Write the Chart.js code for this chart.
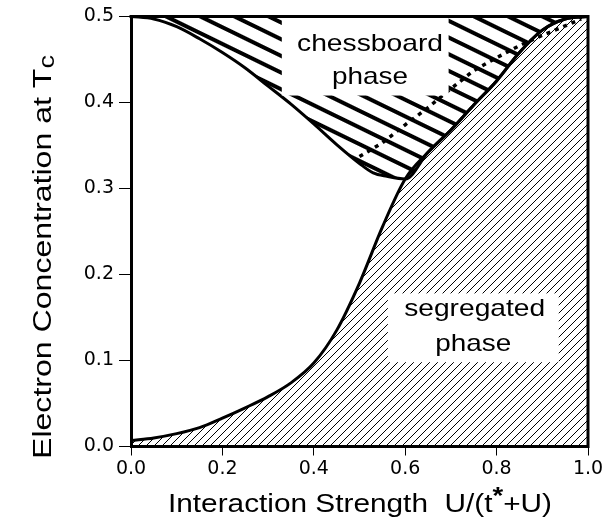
<!DOCTYPE html>
<html>
<head>
<meta charset="utf-8">
<script src="https://cdn.jsdelivr.net/npm/chart.js@4.4.1/dist/chart.umd.min.js"></script>
<style>
  body { margin: 0; background: #fff; }
  #wrap { width: 616px; height: 517px; }
</style>
</head>
<body>
<div id="wrap"><canvas id="phaseChart" width="616" height="517"></canvas></div>
<script>
// boundary of the segregated phase
const segX = [0, 0.05, 0.1, 0.15, 0.2, 0.25, 0.3, 0.35, 0.4, 0.45, 0.5, 0.55, 0.6, 0.65, 0.7, 0.75, 0.8, 0.85, 0.9, 0.95, 1.0];
const segY = [0.007, 0.010, 0.015, 0.022, 0.033, 0.045, 0.058, 0.074, 0.097, 0.135, 0.190, 0.255, 0.311, 0.342, 0.368, 0.397, 0.425, 0.458, 0.484, 0.497, 0.5];

// lower edge of the chessboard phase, runs into the segregated curve after 0.6
const chessX = [0, 0.05, 0.1, 0.15, 0.2, 0.25, 0.3, 0.35, 0.4, 0.45, 0.5, 0.53, 0.56, 0.6, 0.65, 0.7, 0.75, 0.8, 0.85, 0.9, 0.95, 1.0];
const chessY = [0.5, 0.497, 0.488, 0.474, 0.458, 0.440, 0.419, 0.398, 0.375, 0.351, 0.329, 0.318, 0.314, 0.311, 0.342, 0.368, 0.397, 0.425, 0.458, 0.484, 0.497, 0.5];

// dotted line inside the chessboard region
const dotX = [0.5, 0.55, 0.6, 0.65, 0.7, 0.75, 0.8, 0.85, 0.9, 0.95, 0.985];
const dotY = [0.337, 0.353, 0.374, 0.394, 0.416, 0.437, 0.452, 0.466, 0.478, 0.489, 0.497];

const xTicks = [0, 0.2, 0.4, 0.6, 0.8, 1.0];
const yTicks = [0, 0.1, 0.2, 0.3, 0.4, 0.5];

const FONT = '"Liberation Sans", Arial, Helvetica, sans-serif';
const TICK_FONT = '"DejaVu Sans", "Liberation Sans", sans-serif';

const toPts = (xs, ys) => xs.map((x, i) => ({ x: x, y: ys[i] }));

const canvas = document.getElementById('phaseChart');
const ctx = canvas.getContext('2d');

// "/" hatching for the segregated phase
function segHatch() {
  const c = document.createElement('canvas');
  c.width = 8; c.height = 8;
  const g = c.getContext('2d');
  g.strokeStyle = '#000';
  g.lineWidth = 1;
  g.beginPath();
  g.moveTo(0, 8); g.lineTo(8, 0);
  g.moveTo(-1, 1); g.lineTo(1, -1);
  g.moveTo(7, 9); g.lineTo(9, 7);
  g.stroke();
  return ctx.createPattern(c, 'repeat');
}

// shallow "\" bands for the chessboard phase
function chessHatch() {
  const c = document.createElement('canvas');
  c.width = 8; c.height = 15;
  const g = c.getContext('2d');
  g.fillStyle = '#000';
  g.fillRect(0, 0, 8, 4);
  const p = ctx.createPattern(c, 'repeat');
  p.setTransform(new DOMMatrix().rotate(26));
  return p;
}

// draws a row of text pieces squeezed/stretched to a given width
function drawRuns(g, runs, cx, y, width) {
  let total = 0;
  runs.forEach(r => {
    g.font = (r.weight || 'normal') + ' ' + r.size + 'px ' + FONT;
    r.w = g.measureText(r.t).width;
    total += r.w;
  });
  g.save();
  g.translate(cx - width / 2, y);
  g.scale(width / total, 1);
  let x = 0;
  runs.forEach(r => {
    g.font = (r.weight || 'normal') + ' ' + r.size + 'px ' + FONT;
    g.fillText(r.t, x, r.dy || 0);
    x += r.w;
  });
  g.restore();
}

const labelPlugin = {
  id: 'phaseLabels',
  beforeDraw(chart) {
    const g = chart.ctx;
    g.save();
    g.fillStyle = '#fff';
    g.fillRect(0, 0, chart.width, chart.height);
    g.restore();
  },
  afterDatasetsDraw(chart) {
    const g = chart.ctx;
    const xs = chart.scales.x, ys = chart.scales.y;
    const boxes = [
      { x0: 0.33, x1: 0.695, y0: 0.408, y1: 0.5 },
      { x0: 0.562, x1: 0.936, y0: 0.098, y1: 0.178 }
    ];
    g.save();
    g.fillStyle = '#fff';
    boxes.forEach(b => {
      const l = xs.getPixelForValue(b.x0), r = xs.getPixelForValue(b.x1);
      const t = ys.getPixelForValue(b.y1), btm = ys.getPixelForValue(b.y0);
      g.fillRect(l, t, r - l, btm - t);
    });
    g.fillStyle = '#000';
    g.textBaseline = 'alphabetic';
    const texts = [
      { t: 'chessboard', x: 0.523, y: 0.460, w: 146 },
      { t: 'phase', x: 0.523, y: 0.421, w: 76 },
      { t: 'segregated', x: 0.752, y: 0.152, w: 141 },
      { t: 'phase', x: 0.749, y: 0.111, w: 76 }
    ];
    texts.forEach(s => {
      drawRuns(g, [{ t: s.t, size: 24 }], xs.getPixelForValue(s.x), ys.getPixelForValue(s.y), s.w);
    });
    g.restore();
  },
  afterDraw(chart) {
    const g = chart.ctx;
    const a = chart.chartArea;
    g.save();
    // top and right edges of the frame
    g.strokeStyle = '#000';
    g.lineWidth = 3;
    g.beginPath();
    g.moveTo(a.left - 1.5, a.top);
    g.lineTo(a.right, a.top);
    g.lineTo(a.right, a.bottom + 1.5);
    g.stroke();
    // axis titles
    g.fillStyle = '#000';
    g.textBaseline = 'alphabetic';
    drawRuns(g, [
      { t: 'Interaction Strength  U/(t', size: 26 },
      { t: '*', size: 24, dy: -8, weight: 'bold' },
      { t: '+U)', size: 26 }
    ], 360, 512, 384);
    g.translate(51, 257);
    g.rotate(-Math.PI / 2);
    drawRuns(g, [
      { t: 'Electron Concentration at T', size: 26 },
      { t: 'c', size: 22, dy: 3 }
    ], 0, 0, 404);
    g.restore();
  }
};

new Chart(ctx, {
  type: 'scatter',
  data: {
    datasets: [
      {
        label: 'dotted',
        data: toPts(dotX, dotY),
        showLine: true,
        borderColor: '#000',
        borderWidth: 3.5,
        borderDash: [4, 5],
        pointRadius: 0,
        fill: false
      },
      {
        label: 'segregated',
        data: toPts(segX, segY),
        showLine: true,
        borderColor: '#000',
        borderWidth: 3,
        pointRadius: 0,
        cubicInterpolationMode: 'monotone',
        backgroundColor: segHatch(),
        fill: 'origin'
      },
      {
        label: 'chessboard',
        data: toPts(chessX, chessY),
        showLine: true,
        borderColor: '#000',
        borderWidth: 3,
        pointRadius: 0,
        cubicInterpolationMode: 'monotone',
        backgroundColor: chessHatch(),
        fill: 'end'
      }
    ]
  },
  options: {
    responsive: false,
    animation: false,
    layout: { padding: { top: 13.5, right: 28, left: 0, bottom: 0 } },
    plugins: {
      legend: { display: false },
      tooltip: { enabled: false }
    },
    scales: {
      x: {
        type: 'linear',
        min: 0,
        max: 1,
        afterBuildTicks: s => { s.ticks = xTicks.map(v => ({ value: v })); },
        afterFit: s => { s.height = 70.5; },
        ticks: {
          color: '#000',
          padding: 2,
          font: { family: TICK_FONT, size: 19 },
          callback: v => v.toFixed(1)
        },
        grid: { drawOnChartArea: false, color: '#000', tickLength: 9, lineWidth: 1 },
        border: { display: true, color: '#000', width: 3 }
      },
      y: {
        type: 'linear',
        min: 0,
        max: 0.5,
        afterBuildTicks: s => { s.ticks = yTicks.map(v => ({ value: v })); },
        afterFit: s => { s.width = 131; },
        ticks: {
          color: '#000',
          padding: 5,
          font: { family: TICK_FONT, size: 19 },
          callback: v => v.toFixed(1)
        },
        grid: { drawOnChartArea: false, color: '#000', tickLength: 12, lineWidth: 1 },
        border: { display: true, color: '#000', width: 3 }
      }
    }
  },
  plugins: [labelPlugin]
});
</script>
</body>
</html>
